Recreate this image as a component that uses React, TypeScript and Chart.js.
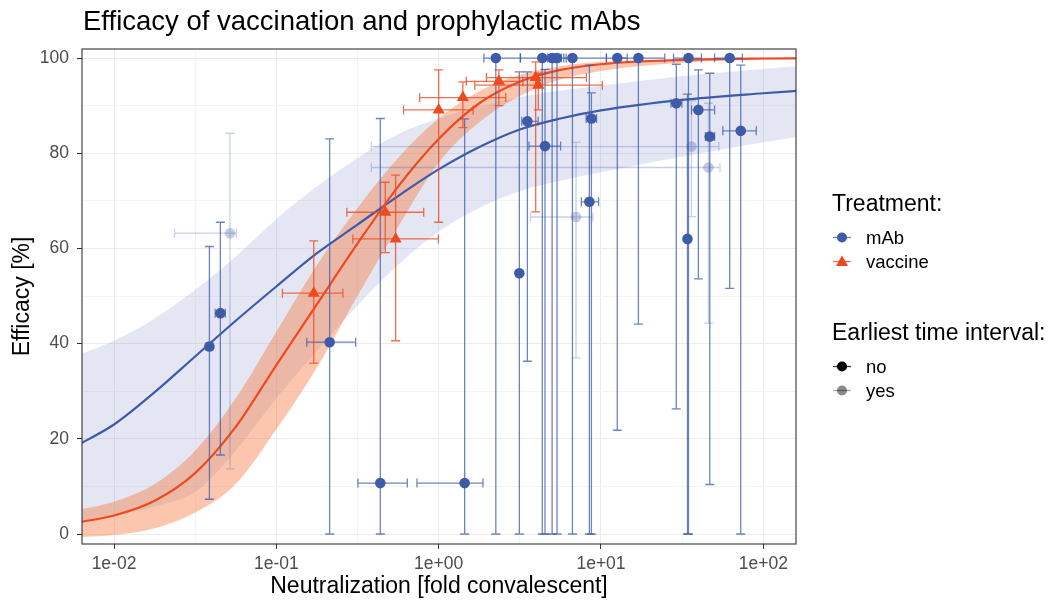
import React, { useEffect, useRef } from 'react';
import { Chart, registerables } from 'chart.js';

Chart.register(...registerables);

const FONT = '"Liberation Sans", Arial, Helvetica, sans-serif';

// ---------- axes ----------
const xMin = 0.00635;
const xMax = 159;
const yMin = -2.1;
const yMax = 101.9;
const xMajorTicks = [0.01, 0.1, 1, 10, 100];
const xTickLabels = ['1e-02', '1e-01', '1e+00', '1e+01', '1e+02'];
const xMinorTicks = [0.0316, 0.316, 3.16, 31.6];
const yMajorTicks = [0, 20, 40, 60, 80, 100];
const yMinorTicks = [10, 30, 50, 70, 90];

// ---------- mAb studies ----------
const mabX = [2.25, 4.35, 5.0, 5.36, 6.67, 12.6, 17.0, 34.6, 62.1, 3.52, 4.52, 8.73, 8.48, 3.14, 29.1, 39.8, 46.8, 72.6, 34.1, 0.0452, 0.0387, 0.213, 0.437, 1.446, 36.1, 45.9, 7.02, 0.0518];
const mabY = [100, 100, 100, 100, 100, 100, 100, 100, 100, 86.7, 81.5, 87.3, 69.8, 54.8, 90.5, 89.1, 83.5, 84.7, 62.0, 46.4, 39.4, 40.3, 10.7, 10.7, 81.4, 77.0, 66.6, 63.2];
const mabXLo = [1.9, 3.19, 4.7, 5.1, 5.9, 10.8, 13.0, 28.0, 50.1, 3.25, 3.6, 8.1, 7.57, 3.05, 27.0, 36.1, 44.0, 56.3, 33.3, 0.042, 0.037, 0.154, 0.318, 0.735, 0.385, 0.385, 3.68, 0.0236];
const mabXHi = [3.19, 6.1, 5.3, 5.7, 10.8, 14.5, 24.7, 41.6, 74.3, 4.1, 5.64, 9.4, 9.67, 3.23, 31.5, 50.1, 50.1, 90.5, 35.0, 0.0485, 0.0405, 0.308, 0.641, 1.875, 53.3, 54.1, 8.93, 0.0567];
const mabYLo = [0, 0, 0, 0, 0, 21.8, 44.1, 0, 51.6, 36.3, 0, 0, 0, 0, 26.3, 53.6, 10.4, 0, 0, 16.6, 7.3, 0, 0, 0, 66.7, 44.3, 37.0, 13.7];
const mabYHi = [100, 100, 100, 100, 100, 100, 100, 100, 100, 97.1, 97.6, 92.7, 98.5, 97.1, 98.7, 97.5, 96.8, 98.5, 92.4, 65.5, 60.4, 83.0, 87.3, 87.2, 91.0, 90.5, 82.3, 84.2];
const mabEarly = ['no', 'no', 'no', 'no', 'no', 'no', 'no', 'no', 'no', 'no', 'no', 'no', 'no', 'no', 'no', 'no', 'no', 'no', 'no', 'no', 'no', 'no', 'no', 'no', 'yes', 'yes', 'yes', 'yes'];

// ---------- vaccine studies ----------
const vacX = [0.17, 0.469, 0.543, 1.0, 1.41, 2.35, 3.96, 4.11];
const vacY = [50.6, 67.6, 62.0, 89.1, 91.7, 95.1, 95.9, 94.3];
const vacXLo = [0.109, 0.272, 0.296, 0.608, 0.764, 1.48, 1.97, 1.67];
const vacXHi = [0.257, 0.809, 0.996, 1.63, 2.59, 3.3, 8.13, 10.2];
const vacYLo = [35.9, 59.1, 40.6, 65.5, 85.4, 90.0, 67.7, 89.1];
const vacYHi = [61.6, 73.9, 75.4, 97.5, 95.0, 97.5, 99.2, 96.8];

// ---------- fitted curves (ends run just past the panel) ----------
const curveX = [0.00562, 0.01, 0.0178, 0.0316, 0.0562, 0.1, 0.178, 0.316, 0.562, 1, 1.78, 3.16, 5.62, 10, 31.6, 100, 178];
const mabFit = [18.2, 23.0, 29.8, 37.3, 44.8, 52.0, 59.0, 65.0, 71.0, 76.6, 81.3, 85.0, 87.3, 89.0, 91.2, 92.6, 93.2];
const mabUpper = [37.2, 40.6, 45.3, 51.3, 58.3, 66.2, 73.0, 79.0, 84.0, 87.3, 89.8, 91.8, 93.2, 94.2, 96.2, 97.7, 98.4];
const mabLower = [2.6, 3.9, 5.8, 8.8, 17.5, 28.5, 38.5, 48.0, 56.5, 63.5, 68.5, 72.0, 74.2, 76.0, 79.3, 82.3, 83.7];
const vacFit = [2.3, 3.9, 7.0, 12.8, 22.5, 35.5, 48.3, 61.0, 73.0, 83.0, 90.5, 95.0, 97.5, 98.7, 99.6, 99.9, 99.95];
const vacUpper = [4.9, 6.8, 10.5, 17.5, 28.5, 42.5, 56.5, 68.5, 79.0, 87.3, 93.0, 96.5, 98.3, 99.2, 99.8, 99.97, 100];
const vacLower = [-0.7, -0.2, 1.2, 4.5, 10.5, 22.0, 35.0, 50.0, 64.5, 78.0, 86.5, 92.0, 95.5, 97.3, 99.0, 99.7, 99.85];

// ---------- colours ----------
const BLUE = '#3E5BA8';
const BLUE_BAR = 'rgba(62,91,168,0.75)';
const BLUE_FADE = 'rgba(62,91,168,0.3)';
const BLUE_BAR_FADE = 'rgba(62,91,168,0.28)';
const ORANGE = '#EE4A22';
const ORANGE_BAR = 'rgba(238,74,34,0.8)';
const BLUE_BAND = 'rgba(120,130,200,0.2)';
const ORANGE_BAND = 'rgba(245,120,60,0.42)';

const curve = (ys: number[]) => curveX.map((x, i) => ({ x, y: ys[i] }));

const isMajorX = (v: number) => xMajorTicks.some((m) => Math.abs(v - m) / m < 1e-6);

const errorBarPlugin = {
  id: 'errorBars',
  beforeDatasetDraw(chart: any, args: any) {
    const ds = chart.data.datasets[args.index];
    if (!ds.errorBars) return;
    const xs = chart.scales.x;
    const ys = chart.scales.y;
    const ctx = chart.ctx;
    const a = chart.chartArea;
    ctx.save();
    ctx.beginPath();
    ctx.rect(a.left, a.top, a.right - a.left, a.bottom - a.top);
    ctx.clip();
    ctx.strokeStyle = ds.errorColor;
    ctx.lineWidth = 1.3;
    const cap = 4.5;
    ds.data.forEach((p: any) => {
      const px = xs.getPixelForValue(p.x);
      const py = ys.getPixelForValue(p.y);
      const x1 = xs.getPixelForValue(p.xLo);
      const x2 = xs.getPixelForValue(p.xHi);
      const y1 = ys.getPixelForValue(p.yLo);
      const y2 = ys.getPixelForValue(p.yHi);
      ctx.beginPath();
      ctx.moveTo(px, y1); ctx.lineTo(px, y2);
      ctx.moveTo(px - cap, y1); ctx.lineTo(px + cap, y1);
      ctx.moveTo(px - cap, y2); ctx.lineTo(px + cap, y2);
      ctx.moveTo(x1, py); ctx.lineTo(x2, py);
      ctx.moveTo(x1, py - cap); ctx.lineTo(x1, py + cap);
      ctx.moveTo(x2, py - cap); ctx.lineTo(x2, py + cap);
      ctx.stroke();
    });
    ctx.restore();
  },
};

const drawTriangle = (ctx: CanvasRenderingContext2D, cx: number, cy: number, r: number) => {
  ctx.beginPath();
  ctx.moveTo(cx, cy - r);
  ctx.lineTo(cx + r * 0.866, cy + r * 0.5);
  ctx.lineTo(cx - r * 0.866, cy + r * 0.5);
  ctx.closePath();
  ctx.fill();
};

const decorPlugin = {
  id: 'decor',
  afterDraw(chart: any) {
    const ctx = chart.ctx as CanvasRenderingContext2D;
    const a = chart.chartArea;
    ctx.save();
    // panel border
    ctx.strokeStyle = '#333333';
    ctx.lineWidth = 1.1;
    ctx.strokeRect(a.left, a.top, a.right - a.left, a.bottom - a.top);

    // title
    ctx.fillStyle = '#000000';
    ctx.textAlign = 'left';
    ctx.textBaseline = 'alphabetic';
    ctx.font = `27.5px ${FONT}`;
    ctx.fillText('Efficacy of vaccination and prophylactic mAbs', 83, 30);

    // axis titles
    ctx.font = `23px ${FONT}`;
    ctx.textAlign = 'center';
    ctx.fillText('Neutralization [fold convalescent]', (a.left + a.right) / 2, 593);
    ctx.save();
    ctx.translate(29, (a.top + a.bottom) / 2);
    ctx.rotate(-Math.PI / 2);
    ctx.fillText('Efficacy [%]', 0, 0);
    ctx.restore();

    // legend
    ctx.textAlign = 'left';
    ctx.font = `23px ${FONT}`;
    ctx.fillText('Treatment:', 832, 211);
    ctx.fillText('Earliest time interval:', 832, 340);

    const keyX = 842;
    const rows = [
      { label: 'mAb', cy: 237.5, color: BLUE, line: BLUE_BAR, shape: 'circle' },
      { label: 'vaccine', cy: 261.5, color: ORANGE, line: ORANGE_BAR, shape: 'triangle' },
      { label: 'no', cy: 366.5, color: '#000000', line: 'rgba(0,0,0,0.8)', shape: 'circle' },
      { label: 'yes', cy: 390.5, color: 'rgba(0,0,0,0.45)', line: 'rgba(0,0,0,0.35)', shape: 'circle' },
    ];
    ctx.font = `18.5px ${FONT}`;
    ctx.textBaseline = 'middle';
    rows.forEach((r) => {
      ctx.strokeStyle = r.line;
      ctx.lineWidth = 1.3;
      ctx.beginPath();
      ctx.moveTo(keyX - 9, r.cy);
      ctx.lineTo(keyX + 9, r.cy);
      ctx.stroke();
      ctx.fillStyle = r.color;
      if (r.shape === 'circle') {
        ctx.beginPath();
        ctx.arc(keyX, r.cy, 5, 0, Math.PI * 2);
        ctx.fill();
      } else {
        drawTriangle(ctx, keyX, r.cy + 1, 7);
      }
      ctx.fillStyle = '#000000';
      ctx.fillText(r.label, 866, r.cy + 1);
    });
    ctx.restore();
  },
};

export default function App() {
  const ref = useRef<HTMLCanvasElement | null>(null);

  useEffect(() => {
    if (!ref.current) return;

    const mabPts = mabX.map((x, i) => ({
      x, y: mabY[i], xLo: mabXLo[i], xHi: mabXHi[i], yLo: mabYLo[i], yHi: mabYHi[i], early: mabEarly[i],
    }));
    const vacPts = vacX.map((x, i) => ({
      x, y: vacY[i], xLo: vacXLo[i], xHi: vacXHi[i], yLo: vacYLo[i], yHi: vacYHi[i],
    }));

    const bandLine = { borderWidth: 0, pointRadius: 0, borderColor: 'transparent', cubicInterpolationMode: 'monotone' };

    const chart = new Chart(ref.current, {
      type: 'line',
      data: {
        datasets: [
          { ...bandLine, label: 'mAb lower', data: curve(mabLower), fill: false, order: 20 } as any,
          { ...bandLine, label: 'mAb upper', data: curve(mabUpper), fill: '-1', backgroundColor: BLUE_BAND, order: 19 } as any,
          { ...bandLine, label: 'vac lower', data: curve(vacLower), fill: false, order: 18 } as any,
          { ...bandLine, label: 'vac upper', data: curve(vacUpper), fill: '-1', backgroundColor: ORANGE_BAND, order: 17 } as any,
          { label: 'mAb fit', data: curve(mabFit), borderColor: BLUE, borderWidth: 2.2, pointRadius: 0, fill: false, cubicInterpolationMode: 'monotone', order: 16 } as any,
          { label: 'vaccine fit', data: curve(vacFit), borderColor: ORANGE, borderWidth: 2.2, pointRadius: 0, fill: false, cubicInterpolationMode: 'monotone', order: 15 } as any,
          {
            label: 'mAb yes', data: mabPts.filter((p) => p.early === 'yes'), showLine: false,
            pointStyle: 'circle', pointRadius: 5.3, pointBorderWidth: 0, backgroundColor: BLUE_FADE, pointBackgroundColor: BLUE_FADE,
            errorBars: true, errorColor: BLUE_BAR_FADE, order: 4,
          } as any,
          {
            label: 'mAb no', data: mabPts.filter((p) => p.early === 'no'), showLine: false,
            pointStyle: 'circle', pointRadius: 5.3, pointBorderWidth: 0, backgroundColor: BLUE, pointBackgroundColor: BLUE,
            errorBars: true, errorColor: BLUE_BAR, order: 3,
          } as any,
          {
            label: 'vaccine', data: vacPts, showLine: false,
            pointStyle: 'triangle', pointRadius: 7, pointBorderWidth: 0, backgroundColor: ORANGE, pointBackgroundColor: ORANGE,
            errorBars: true, errorColor: ORANGE_BAR, order: 2,
          } as any,
        ],
      },
      options: {
        animation: false,
        responsive: false,
        maintainAspectRatio: false,
        events: [],
        layout: { padding: { left: 0, top: 49, right: 258, bottom: 0 } },
        plugins: {
          legend: { display: false },
          tooltip: { enabled: false },
          title: { display: false },
        },
        scales: {
          x: {
            type: 'logarithmic',
            min: xMin,
            max: xMax,
            afterBuildTicks: (s: any) => {
              s.ticks = [...xMinorTicks, ...xMajorTicks].sort((p, q) => p - q).map((v) => ({ value: v }));
            },
            afterFit: (s: any) => { s.height = 58; },
            ticks: {
              autoSkip: false,
              maxRotation: 0,
              padding: 5,
              color: '#4D4D4D',
              font: { family: FONT, size: 17.5 },
              callback: (v: any) => {
                const i = xMajorTicks.findIndex((m) => Math.abs(Number(v) - m) / m < 1e-6);
                return i >= 0 ? xTickLabels[i] : '';
              },
            },
            grid: {
              color: (c: any) => (c.tick && isMajorX(c.tick.value) ? '#EBEBEB' : '#F4F4F4'),
              tickColor: (c: any) => (c.tick && isMajorX(c.tick.value) ? '#333333' : 'rgba(0,0,0,0)'),
              tickLength: 5,
              lineWidth: 1,
            },
            border: { display: false },
          } as any,
          y: {
            type: 'linear',
            min: yMin,
            max: yMax,
            afterBuildTicks: (s: any) => {
              s.ticks = [...yMinorTicks, ...yMajorTicks].sort((p, q) => p - q).map((v) => ({ value: v }));
            },
            afterFit: (s: any) => { s.width = 82; },
            ticks: {
              autoSkip: false,
              padding: 8,
              color: '#4D4D4D',
              font: { family: FONT, size: 17.5 },
              callback: (v: any) => (yMajorTicks.includes(Number(v)) ? String(v) : ''),
            },
            grid: {
              color: (c: any) => (c.tick && yMajorTicks.includes(c.tick.value) ? '#EBEBEB' : '#F4F4F4'),
              tickColor: (c: any) => (c.tick && yMajorTicks.includes(c.tick.value) ? '#333333' : 'rgba(0,0,0,0)'),
              tickLength: 5,
              lineWidth: 1,
            },
            border: { display: false },
          } as any,
        },
      } as any,
      plugins: [errorBarPlugin, decorPlugin],
    });

    return () => chart.destroy();
  }, []);

  return (
    <div style={{ position: 'fixed', left: 0, top: 0, width: 1054, height: 602, background: '#ffffff' }}>
      <canvas ref={ref} width={1054} height={602} style={{ display: 'block', width: 1054, height: 602 }} />
    </div>
  );
}
